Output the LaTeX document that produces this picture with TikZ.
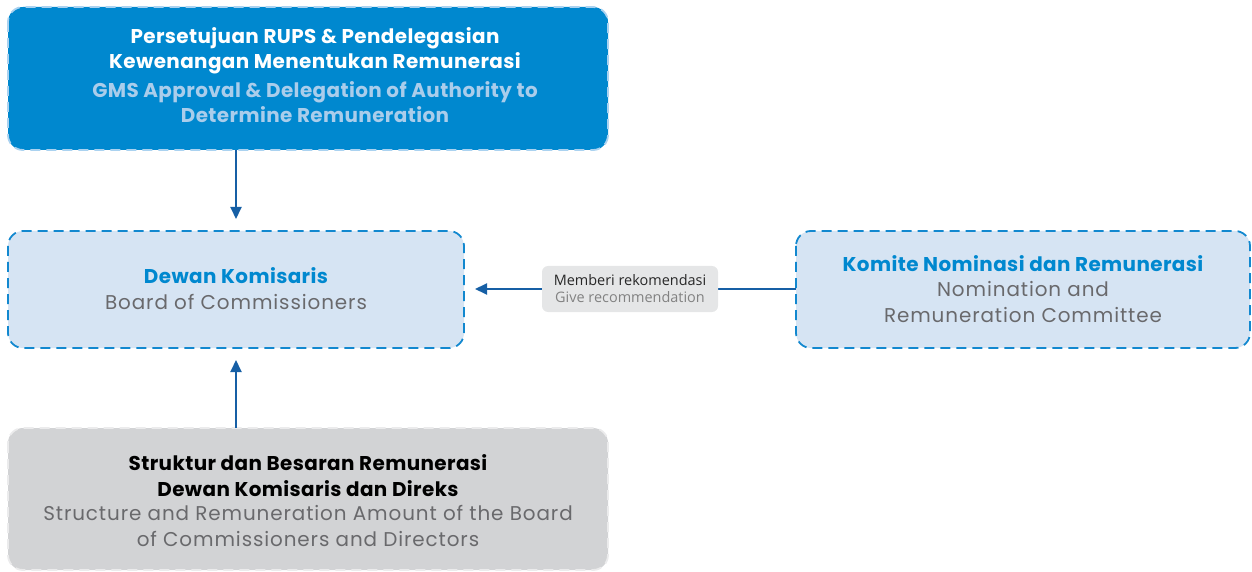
\documentclass[tikz,border=0pt]{standalone}
\usepackage{fontspec}
\setmainfont{Poppins}
\newfontfamily\boldfont[LetterSpace=2.0]{Poppins Bold}
\newfontfamily\regfont[LetterSpace=4.5]{Poppins}
\newfontfamily\lblfont{Open Sans}
\usetikzlibrary{arrows.meta}
\definecolor{topblue}{RGB}{0,136,207}
\definecolor{topborder}{RGB}{170,210,240}
\definecolor{lightfill}{RGB}{214,228,243}
\definecolor{dashblue}{RGB}{18,136,207}
\definecolor{grayfill}{RGB}{210,211,213}
\definecolor{grayborder}{RGB}{235,235,236}
\definecolor{arrowblue}{RGB}{22,95,165}
\definecolor{engtop}{RGB}{170,205,235}
\definecolor{enggray}{RGB}{105,105,108}
\definecolor{lblfill}{RGB}{229,230,231}
\definecolor{lbldark}{RGB}{40,40,40}
\definecolor{lblgray}{RGB}{130,130,130}
\tikzset{
  x=1bp, y=-1bp,
  box/.style={rounded corners=15bp, line width=1.8bp, dash pattern=on 10bp off 6bp},
  topbox/.style={box, fill=topblue, draw=topborder},
  bluebox/.style={box, fill=lightfill, draw=dashblue},
  graybox/.style={box, fill=grayfill, draw=grayborder},
  txt/.style={align=center, font=\regfont\fontsize{20}{25.5}\selectfont, inner sep=0pt},
  btxt/.style={align=center, font=\boldfont\fontsize{20}{25.5}\selectfont, inner sep=0pt},
  conn/.style={draw=arrowblue, line width=2bp, -{Triangle[length=12bp,width=11bp]}},
  lbl/.style={fill=lblfill, rounded corners=6bp, minimum width=176bp, minimum height=46bp, inner sep=0pt, align=center, font=\lblfont\fontsize{14.5}{18}\selectfont}
}
\begin{document}
\begin{tikzpicture}
\useasboundingbox (0,0) rectangle (1252,572);
% boxes
\draw[topbox] (8,7) rectangle (608,150);
\draw[bluebox] (8,231) rectangle (464,348);
\draw[bluebox] (796,231) rectangle (1250,348);
\draw[graybox] (8,428) rectangle (608,570);
\coordinate (topb) at (236,150);
\coordinate (midt) at (236,219);
\coordinate (midb) at (236,360);
\coordinate (botb) at (236,428);
\coordinate (rightl) at (796,289);
\coordinate (midr) at (475,289);
% texts
\node[btxt, text=white] (t1) at (315,51) {Persetujuan RUPS \& Pendelegasian\\Kewenangan Menentukan Remunerasi};
\node[btxt, text=engtop] (t2) at (315,102) {GMS Approval \& Delegation of Authority to\\Determine Remuneration};
\node[btxt, text=topblue] (m1) at (236,276) {Dewan Komisaris};
\node[txt, text=enggray] (m2) at (236,302) {Board of Commissioners};
\node[btxt, text=topblue] (r1) at (1023,264) {Komite Nominasi dan Remunerasi};
\node[txt, text=enggray] (r2) at (1023,302) {Nomination and\\Remuneration Committee};
\node[btxt, text=black] (b1) at (308,475.5) {Struktur dan Besaran Remunerasi\\Dewan Komisaris dan Direks};
\node[txt, text=enggray] (b2) at (308,526) {Structure and Remuneration Amount of the Board\\of Commissioners and Directors};
% connectors
\draw[conn] (topb) -- (midt);
\draw[conn] (botb) -- (midb);
\draw[conn] (rightl) -- (midr);
\node[lbl] (lab) at (630,289) {\textcolor{lbldark}{Memberi rekomendasi}\\[-1bp]\textcolor{lblgray}{Give recommendation}};
\end{tikzpicture}
\end{document}
